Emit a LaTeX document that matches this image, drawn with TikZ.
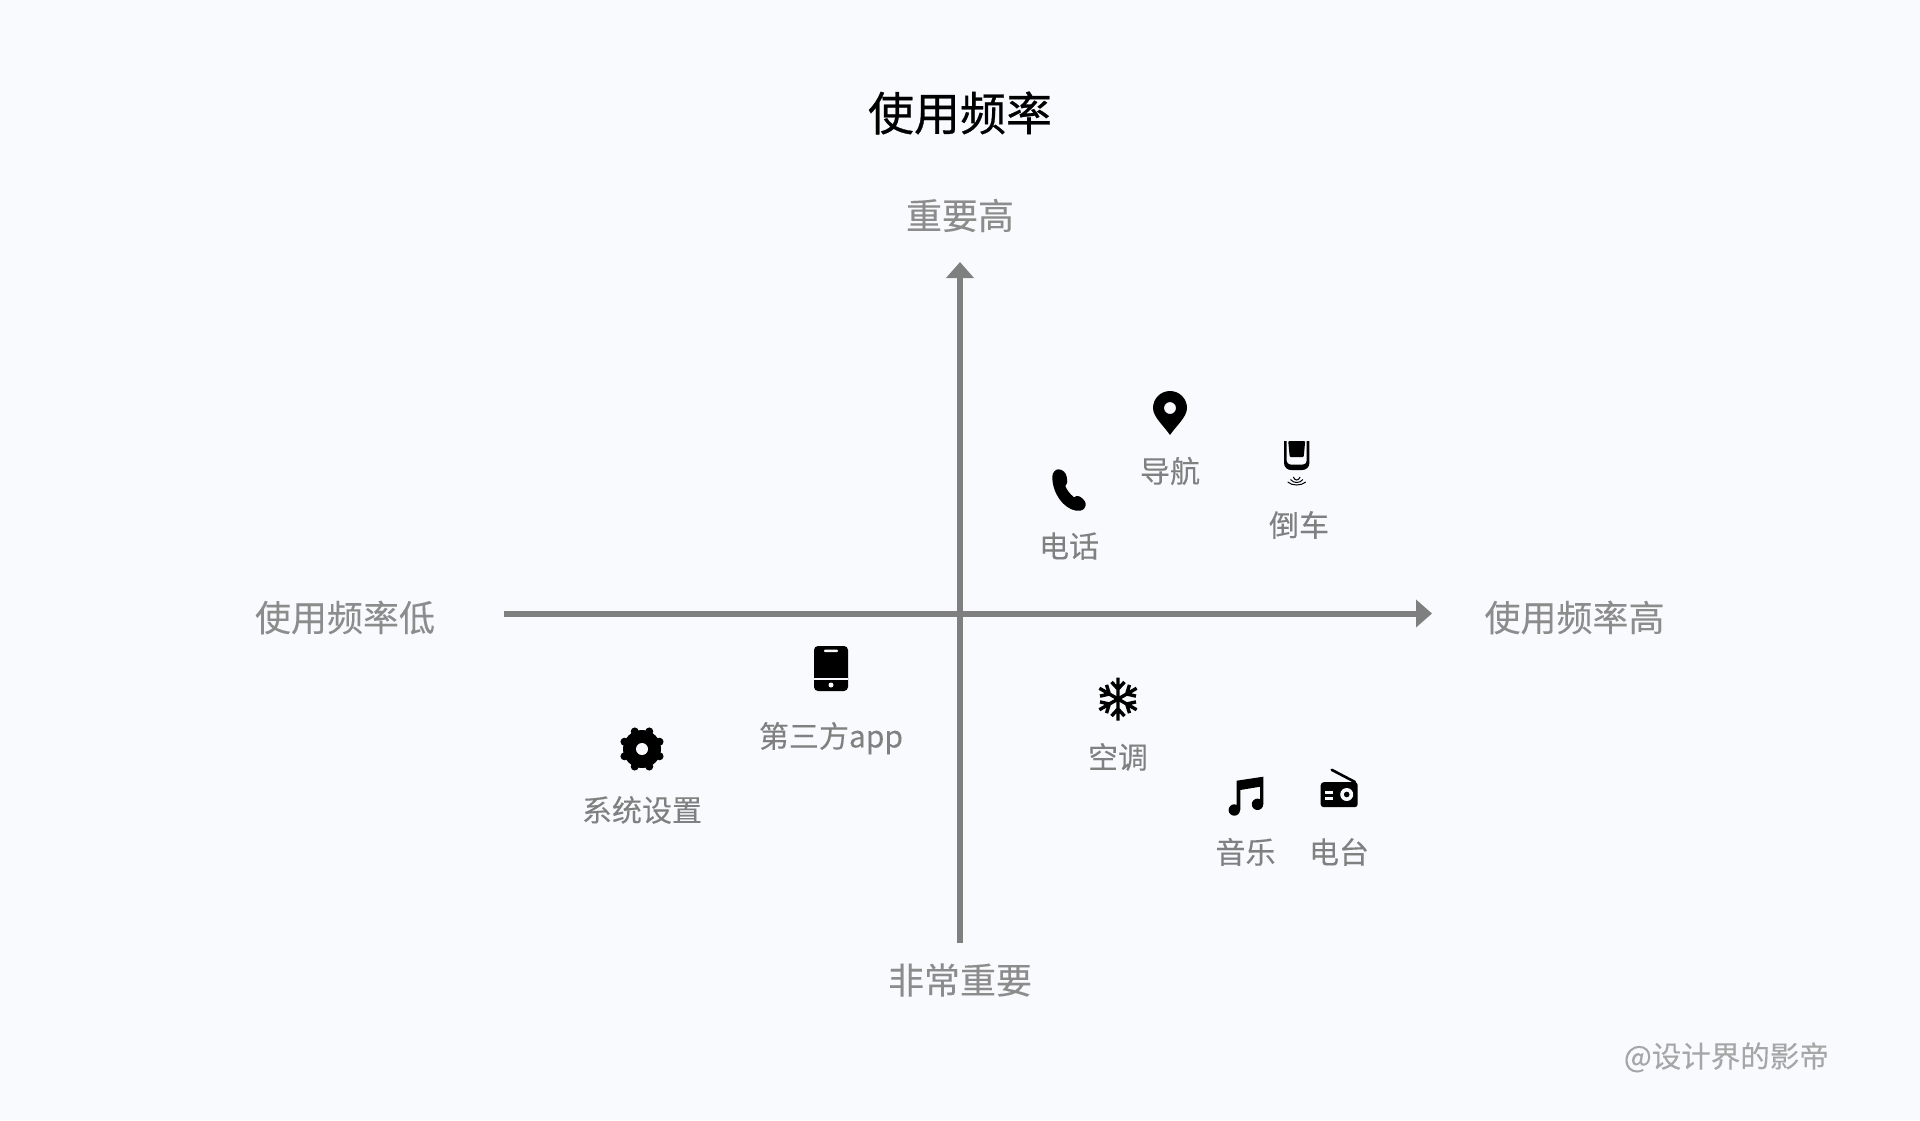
\documentclass[tikz,border=0pt]{standalone}
\usepackage{fontspec}
\setmainfont{Noto Sans CJK SC}
\newfontfamily\titlecjk[FakeBold=0.6]{Noto Sans CJK SC}
\newfontfamily\labelcjk[FakeBold=0.12]{Noto Sans CJK SC}
\usetikzlibrary{arrows.meta, positioning}
\definecolor{pagebg}{HTML}{F9FAFE}
\definecolor{axisgray}{HTML}{7F7F7F}
\definecolor{axistext}{HTML}{8C8C8C}
\definecolor{icontext}{HTML}{808080}
\definecolor{marktext}{HTML}{A6A6A6}
\tikzstyle{axisline} = [line width=6pt, draw=axisgray, -{Triangle[width=27pt,length=16pt]}]
\tikzstyle{titlelabel} = [inner sep=0pt, text=black, text height=40.5pt, text depth=5.5pt, font={\fontsize{46}{46}\titlecjk}]
\tikzstyle{axislabel} = [inner sep=0pt, text=axistext, text height=31.7pt, text depth=4.3pt, font={\fontsize{36}{36}\labelcjk}]
\tikzstyle{iconlabel} = [inner sep=0pt, text=icontext, text height=26.4pt, text depth=3.6pt, font={\fontsize{30}{30}\labelcjk}]
\tikzstyle{marklabel} = [inner sep=0pt, text=marktext, text height=26pt, text depth=3.5pt, font={\fontsize{29.5}{29.5}\labelcjk}]
\tikzset{
	pinicon/.pic = {
		\fill[even odd rule] (-17,0) .. controls (-17,-9.4) and (-9.4,-17) .. (0,-17) .. controls (9.4,-17) and (17,-9.4) .. (17,0) .. controls (17,9) and (6,18) .. (0,27) .. controls (-6,18) and (-17,9) .. (-17,0) -- cycle (0,0) circle (6);
	},
	phoneicon/.pic = {
		\fill (-16.7,-13.3) .. controls (-16.7,-18) and (-13,-20.7) .. (-10.7,-20.7) .. controls (-6,-20.7) and (-3,-17) .. (-2.3,-13.3) .. controls (-1.3,-10) and (-1.3,-7) .. (-3.7,-4) .. controls (-2.5,-1) and (0,3.3) .. (5,7.3) .. controls (8,5) and (11,6) .. (14,9) .. controls (17,12) and (17.5,15) .. (15.5,18) .. controls (13.5,21) and (10,21) .. (7,20.7) .. controls (-5.7,18.3) and (-16.7,3.3) .. (-16.7,-13.3) -- cycle;
	},
	sensoricon/.pic = {
		\fill[rounded corners=7pt] (-12.7,-10) -- (12.7,-10) -- (12.7,29) -- (-12.7,29) -- cycle;
		\fill[pagebg] (-13,-11) rectangle (13,0);
		\fill[pagebg, rounded corners=4pt] (-10,-6) -- (10,-6) -- (10,23.5) -- (-10,23.5) -- cycle;
		\fill[rounded corners=1pt] (-8.5,0) -- (8.5,0) -- (7,16) -- (-7,16) -- cycle;
		\foreach \w/\d in {9/41, 6.2/38.5, 3.4/36}
			\draw[line width=1pt] (-\w,\d) .. controls (-\w/2,\d+4) and (\w/2,\d+4) .. (\w,\d);
	},
	flakeicon/.pic = {
		\foreach \a in {30,90,150,210,270,330}
			\draw[line width=3.4pt, rotate=\a] (0,0) -- (21.5,0) (17,-6.5) -- (10,0) -- (17,6.5);
	},
	musicicon/.pic = {
		\fill (-8.3,-16.3) -- (18.3,-20.3) -- (18.3,7.3) -- (15,7.3) -- (15,-10.3) -- (-4.7,-7) -- (-4.7,13) -- (-8.3,13) -- cycle;
		\fill (-10.7,13) circle (5.7);
		\fill (12.5,7.3) circle (5.7);
	},
	radioicon/.pic = {
		\draw[line width=2.6pt, line cap=round] (-7.8,-18.2) -- (15.5,-6);
		\fill[rounded corners=3pt] (-18.8,-5.8) -- (18.2,-5.8) -- (18.2,19.2) -- (-18.8,19.2) -- cycle;
		\fill[pagebg] (7.2,6.5) circle (6.5);
		\fill (7.2,6.5) circle (2.8);
		\fill[pagebg] (-14.5,3) rectangle (-6.2,6);
		\fill[pagebg] (-14.5,9.2) rectangle (-6.2,12.3);
	},
	gearicon/.pic = {
		\fill (0,0) circle (19);
		\foreach \a in {22.5,67.5,...,337.5}
			\fill (\a:19) circle (4);
		\fill[pagebg] (0,0) circle (6);
	},
	tableticon/.pic = {
		\fill[rounded corners=4pt] (-17,-22.5) -- (17,-22.5) -- (17,22.5) -- (-17,22.5) -- cycle;
		\fill[pagebg, rounded corners=1pt] (-7,-19) rectangle (7,-16.5);
		\fill[pagebg] (-17,9.2) rectangle (17,11.8);
		\fill[pagebg] (0,16.5) circle (2.5);
	},
}

\begin{document}
\begin{tikzpicture}[x=1pt, y=-1pt, node distance=58pt]
\fill[pagebg] (0,0) rectangle (1920,1120);
\useasboundingbox (0,0) rectangle (1920,1120);

% Axes
\coordinate (left) at (504,613.5);
\coordinate (right) at (1432,613.5);
\coordinate (bottom) at (960,943);
\coordinate (top) at (960,262);
\draw [axisline] (left) -- (right);
\draw [axisline] (bottom) -- (top);

% Titles of axes
\node (title) [titlelabel] at (960,113) {使用频率};
\node (high) [axislabel] at (960,215.5) {重要高};
\node (low) [axislabel] at (960,980) {非常重要};
\node (rare) [axislabel] at (345,617.5) {使用频率低};
\node (often) [axislabel] at (1574.5,617.5) {使用频率高};

% Icons and their labels
\coordinate (nav) at (1170,408);
\pic at (nav) {pinicon};
\node (navLabel) [iconlabel] at (1170,471) {导航};

\coordinate (sensor) at (1296.7,441);
\pic at (sensor) {sensoricon};
\node (sensorLabel) [iconlabel] at (1299,525) {倒车};

\coordinate (phone) at (1069,490);
\pic at (phone) {phoneicon};
\node (phoneLabel) [iconlabel] at (1069,546) {电话};

\coordinate (flake) at (1118,699);
\pic at (flake) {flakeicon};
\node (flakeLabel) [iconlabel, below of = flake] {空调};

\coordinate (music) at (1245,797);
\pic at (music) {musicicon};
\node (musicLabel) [iconlabel] at (1245.5,852) {音乐};

\coordinate (radio) at (1339.5,788);
\pic at (radio) {radioicon};
\node (radioLabel) [iconlabel] at (1339,852) {电台};

\coordinate (gear) at (642,749);
\pic at (gear) {gearicon};
\node (gearLabel) [iconlabel] at (642,810) {系统设置};

\coordinate (tablet) at (831,668.5);
\pic at (tablet) {tableticon};
\node (tabletLabel) [iconlabel] at (831,736) {第三方app};

% Watermark
\node (mark) [marklabel, anchor=east] at (1829,1056) {@设计界的影帝};

\end{tikzpicture}
\end{document}
